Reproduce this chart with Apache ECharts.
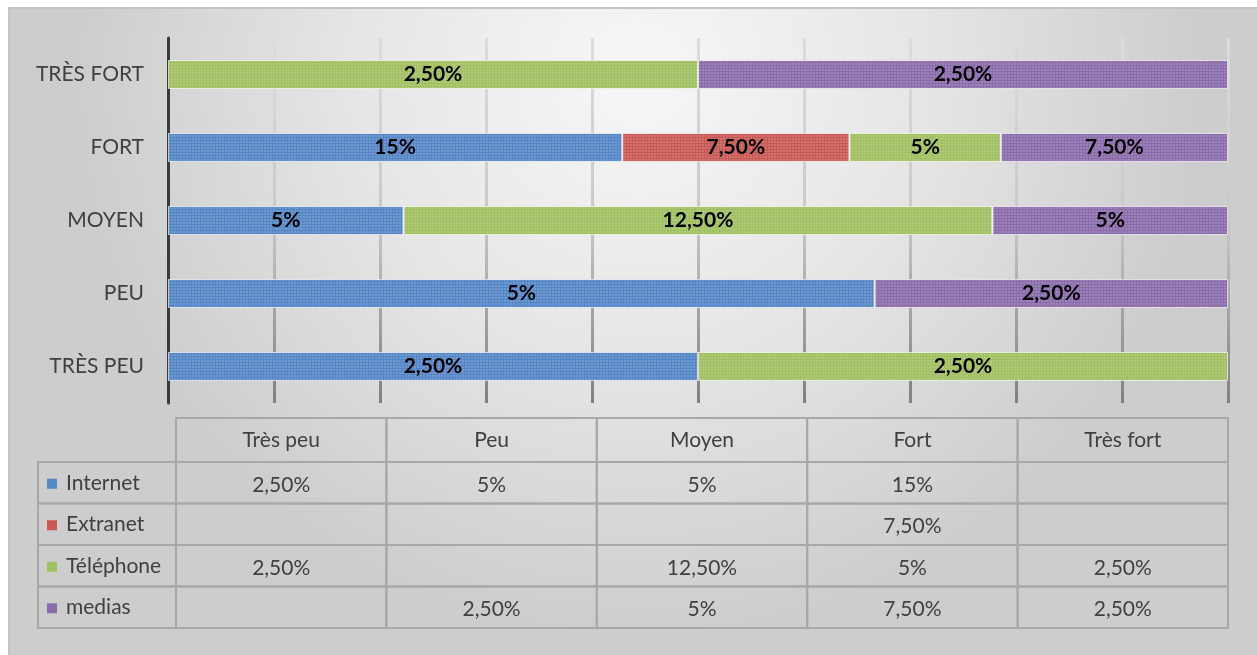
<!DOCTYPE html>
<html>
<head>
<meta charset="utf-8">
<script src="https://cdn.jsdelivr.net/npm/echarts@6/dist/echarts.min.js"></script>
<style>
  html, body { margin: 0; padding: 0; background: #fff; }
  #chart { width: 1257px; height: 655px; }
</style>
</head>
<body>
<div id="chart"></div>
<script>
// niveaux (lignes du graphique, colonnes du tableau)
const levels = ['Très peu', 'Peu', 'Moyen', 'Fort', 'Très fort']
// valeurs en %, null = case vide
const internet = [2.5, 5, 5, 15, null]
const extranet = [null, null, null, 7.5, null]
const telephone = [2.5, null, 12.5, 5, 2.5]
const medias = [null, 2.5, 5, 7.5, 2.5]
const seriesNames = ['Internet', 'Extranet', 'Téléphone', 'medias']
const colors = ['#5586c6', '#c85955', '#a1c062', '#8a6cab']

const raw = [internet, extranet, telephone, medias]
const totals = levels.map((l, i) => raw.reduce((s, arr) => s + (arr[i] || 0), 0))

function fmt(v) {
  if (v == null) return ''
  return Number.isInteger(v) ? v + '%' : v.toFixed(2).replace('.', ',') + '%'
}

const chart = echarts.init(document.getElementById('chart'))

const font = 'Lato, "Open Sans", sans-serif'
const labelColW = 138
const headerH = 44
const lineColor = '#a8a8a8'

// barres empilées à 100%
const barSeries = raw.map((arr, k) => ({
  name: seriesNames[k],
  type: 'bar',
  stack: 'total',
  xAxisIndex: 0,
  yAxisIndex: 0,
  barWidth: 29,
  z: 2,
  data: arr.map((v, i) => v == null ? null : { value: v / totals[i] * 100, raw: v }),
  itemStyle: {
    color: colors[k],
    borderColor: 'rgba(255,255,255,0.4)',
    borderWidth: 1,
    decal: {
      symbol: 'rect',
      symbolSize: 1,
      dashArrayX: [2, 1],
      dashArrayY: [2, 1],
      color: 'rgba(255,255,255,0.15)'
    }
  },
  label: {
    show: true,
    position: 'inside',
    color: '#000',
    fontWeight: 'bold',
    fontSize: 21,
    fontFamily: font,
    formatter: p => fmt(p.data.raw)
  }
}))

// tableau de données
const cellData = []
levels.forEach((l, c) => seriesNames.forEach((n, r) => cellData.push([c, r])))

const textStyle = { fill: '#404040', fontSize: 21, fontFamily: font, align: 'center', verticalAlign: 'middle' }

const tableCells = {
  type: 'custom',
  xAxisIndex: 1,
  yAxisIndex: 1,
  data: cellData,
  renderItem: (params, api) => {
    const c = api.value(0), r = api.value(1)
    const p = api.coord([c, r])
    const s = api.size([1, 1])
    return {
      type: 'group',
      children: [
        { type: 'rect', shape: { x: p[0] - s[0] / 2, y: p[1] - s[1] / 2, width: s[0], height: s[1] },
          style: { fill: 'none', stroke: lineColor, lineWidth: 2 } },
        { type: 'text', style: Object.assign({ text: fmt(raw[r][c]), x: p[0], y: p[1] + 2 }, textStyle) }
      ]
    }
  }
}

const tableHeader = {
  type: 'custom',
  xAxisIndex: 1,
  yAxisIndex: 1,
  data: levels.map((l, c) => [c, 0]),
  renderItem: (params, api) => {
    const p = api.coord([api.value(0), 0])
    const s = api.size([1, 1])
    const top = p[1] - s[1] / 2 - headerH
    return {
      type: 'group',
      children: [
        { type: 'rect', shape: { x: p[0] - s[0] / 2, y: top, width: s[0], height: headerH },
          style: { fill: 'none', stroke: lineColor, lineWidth: 2 } },
        { type: 'text', style: Object.assign({ text: levels[params.dataIndex], x: p[0], y: top + headerH / 2 }, textStyle) }
      ]
    }
  }
}

const tableLegend = {
  type: 'custom',
  xAxisIndex: 1,
  yAxisIndex: 1,
  data: seriesNames.map((n, r) => [0, r]),
  renderItem: (params, api) => {
    const r = api.value(1)
    const p = api.coord([0, r])
    const s = api.size([1, 1])
    const x0 = p[0] - s[0] / 2 - labelColW
    return {
      type: 'group',
      children: [
        { type: 'rect', shape: { x: x0, y: p[1] - s[1] / 2, width: labelColW, height: s[1] },
          style: { fill: 'none', stroke: lineColor, lineWidth: 2 } },
        { type: 'rect', shape: { x: x0 + 9, y: p[1] - 4, width: 10, height: 10 },
          style: { fill: colors[r] } },
        { type: 'text', style: Object.assign({}, textStyle, { text: seriesNames[r], x: x0 + 28, y: p[1], align: 'left' }) }
      ]
    }
  }
}

chart.setOption({
  animation: false,
  graphic: [{
    type: 'rect',
    z: -10,
    silent: true,
    shape: { x: 9, y: 8, width: 1260, height: 660 },
    style: {
      fill: new echarts.graphic.RadialGradient(0.5, 0.1, 0.85, [
        { offset: 0, color: '#f7f7f7' },
        { offset: 0.5, color: '#e6e6e6' },
        { offset: 1, color: '#cdcdcd' }
      ]),
      stroke: '#c4c4c4',
      lineWidth: 2
    }
  }],
  grid: [
    { left: 168, right: 29, top: 38, bottom: 252 },
    { left: 176, right: 29, top: 462, bottom: 27 }
  ],
  xAxis: [
    {
      type: 'value',
      gridIndex: 0,
      min: 0,
      max: 100,
      interval: 10,
      axisLabel: { show: false },
      axisLine: { show: false },
      axisTick: { show: false },
      splitLine: {
        show: true,
        lineStyle: {
          width: 3,
          color: new echarts.graphic.LinearGradient(0, 38, 0, 403, [
            { offset: 0, color: '#dcdcdc' },
            { offset: 0.5, color: '#c8c8c8' },
            { offset: 1, color: '#808080' }
          ], true)
        }
      }
    },
    { type: 'category', gridIndex: 1, data: levels, show: false }
  ],
  yAxis: [
    {
      type: 'category',
      gridIndex: 0,
      data: levels,
      axisLine: { show: true, lineStyle: { color: '#3a3a3a', width: 3 } },
      axisTick: { show: false },
      axisLabel: {
        color: '#404040',
        fontSize: 21,
        fontFamily: font,
        margin: 24,
        formatter: v => v.toUpperCase()
      }
    },
    { type: 'category', gridIndex: 1, data: seriesNames, inverse: true, show: false }
  ],
  series: barSeries.concat([tableCells, tableHeader, tableLegend])
})
</script>
</body>
</html>
